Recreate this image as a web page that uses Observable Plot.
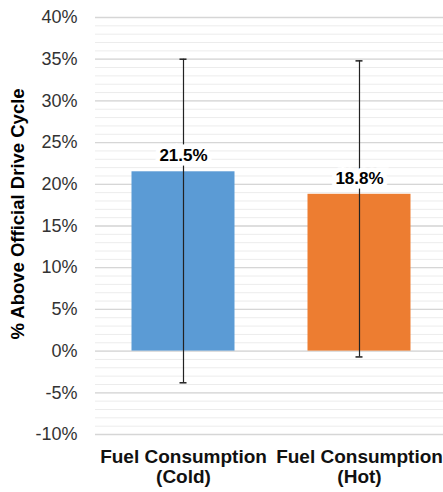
<!DOCTYPE html>
<html>
<head>
<meta charset="utf-8">
<script src="https://cdn.jsdelivr.net/npm/d3@7"></script>
<script src="https://cdn.jsdelivr.net/npm/@observablehq/plot@0.6"></script>
<style>
  html, body { margin: 0; padding: 0; background: #fff; }
  svg { font-family: "Liberation Sans", Arial, sans-serif; }
</style>
</head>
<body>
<div id="chart"></div>
<script>
const categories = ["Fuel Consumption\n(Cold)", "Fuel Consumption\n(Hot)"];
const values = [21.5, 18.8];
const errLow = [-3.8, -0.7];
const errHigh = [35.0, 34.8];
const colors = ["#5B9BD5", "#ED7D31"];
const yTicks = [-10, -5, 0, 5, 10, 15, 20, 25, 30, 35, 40];
const minorTicks = d3.range(-10, 41, 1);
const yTitle = "% Above Official Drive Cycle";

const data = categories.map((c, i) => ({
  cat: c, value: values[i], lo: errLow[i], hi: errHigh[i], color: colors[i]
}));

const chart = Plot.plot({
  width: 443,
  height: 492,
  marginLeft: 95,
  marginRight: 0,
  marginTop: 17,
  marginBottom: 58,
  style: { fontFamily: "'Liberation Sans', Arial, sans-serif", background: "#fff" },
  x: { domain: categories, range: [95, 447], padding: 0 },
  y: { domain: [-10, 40] },
  marks: [
    Plot.ruleY(minorTicks, { stroke: "#ececec", strokeWidth: 1 }),
    Plot.ruleY(yTicks, { stroke: "#d6d6d6", strokeWidth: 1.3 }),
    Plot.barY(data, { x: "cat", y: "value", fill: "color", insetLeft: 36.5, insetRight: 36.5 }),
    Plot.ruleX(data, { x: "cat", y1: "lo", y2: "hi", stroke: "#222", strokeWidth: 1.2 }),
    Plot.tickY(data, { x: "cat", y: "lo", stroke: "#222", strokeWidth: 1.5, insetLeft: 84.5, insetRight: 84.5 }),
    Plot.tickY(data, { x: "cat", y: "hi", stroke: "#222", strokeWidth: 1.5, insetLeft: 84.5, insetRight: 84.5 }),
    Plot.text(data, {
      x: "cat", y: "value", dy: -16,
      text: d => d.value.toFixed(1) + "%",
      fontSize: 17, fontWeight: "bold", fill: "#000",
      stroke: "#fff", strokeWidth: 9, strokeLinejoin: "miter"
    }),
    Plot.axisY({
      ticks: yTicks, tickSize: 0, tickPadding: 18,
      tickFormat: d => d + "%", fontSize: 18, color: "#333", label: null
    }),
    Plot.axisX({
      tickSize: 0, tickPadding: 14, fontSize: 19, fontWeight: "bold",
      color: "#111", label: null, lineHeight: 1.05
    }),
    Plot.text([yTitle], {
      frameAnchor: "left", rotate: -90, dx: -77, dy: -12, textAnchor: "middle",
      text: d => d, fontSize: 18.5, fontWeight: "bold", fill: "#000"
    })
  ]
});

document.getElementById("chart").appendChild(chart);
</script>
</body>
</html>
